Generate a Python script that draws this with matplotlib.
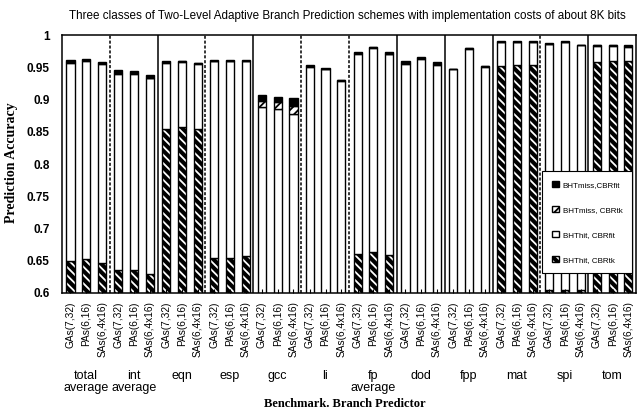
import matplotlib
matplotlib.use("Agg")
from matplotlib import pyplot as plt
from matplotlib.patches import Patch
import matplotlib.transforms as mtransforms
import numpy as np


TITLE = 'Three classes of Two-Level Adaptive Branch Prediction schemes with implementation costs of about 8K bits'

benchmarks = ['total\naverage', 'int\naverage', 'eqn', 'esp', 'gcc', 'li',
			  'fp\naverage', 'dod', 'fpp', 'mat', 'spi', 'tom']
predictors = ['GAs(7,32)', 'PAs(6,16)', 'SAs(6,4x16)']

# fraction of branches in each class, three predictors per benchmark
hit_tk = [0.650, 0.652, 0.646,  0.635, 0.635, 0.629,  0.855, 0.857, 0.855,
		  0.655, 0.655, 0.658,  0.500, 0.500, 0.500,  0.500, 0.500, 0.500,
		  0.661, 0.663, 0.659,  0.500, 0.500, 0.500,  0.500, 0.500, 0.500,
		  0.952, 0.953, 0.953,  0.604, 0.604, 0.604,  0.958, 0.960, 0.959]
hit_fit = [0.307, 0.308, 0.309,  0.305, 0.305, 0.304,  0.102, 0.101, 0.100,
		   0.304, 0.304, 0.301,  0.388, 0.386, 0.378,  0.451, 0.447, 0.429,
		   0.310, 0.317, 0.311,  0.455, 0.463, 0.454,  0.447, 0.479, 0.451,
		   0.037, 0.036, 0.036,  0.382, 0.385, 0.380,  0.025, 0.023, 0.023]
miss_tk = [0.001, 0.001, 0.001,  0.001, 0.001, 0.001,  0.001, 0.001, 0.001,
		   0.001, 0.001, 0.001,  0.009, 0.010, 0.012,  0.001, 0.001, 0.001,
		   0.001, 0.001, 0.001,  0.001, 0.001, 0.001,  0.0005, 0.0005, 0.0005,
		   0.0005, 0.0005, 0.0005,  0.0005, 0.0005, 0.0005,  0.001, 0.001, 0.001]
miss_fit = [0.003, 0.002, 0.002,  0.004, 0.003, 0.004,  0.001, 0.001, 0.001,
			0.001, 0.001, 0.001,  0.010, 0.008, 0.012,  0.002, 0.001, 0.001,
			0.002, 0.001, 0.002,  0.003, 0.002, 0.003,  0.0005, 0.0005, 0.0005,
			0.0005, 0.0005, 0.0005,  0.0005, 0.0005, 0.0005,  0.001, 0.001, 0.001]

# separator style after each group
sep_styles = ['--', '-', '--', '-', '--', '--', '-', '-', '-', '--', '-']

plt.rcParams['hatch.linewidth'] = 1.3
plt.rcParams['font.family'] = 'Liberation Sans'

fig = plt.figure(figsize=(6.38, 4.17), dpi=100)
ax = fig.add_axes([0.097, 0.2974, 0.900, 0.6186])

offsets = np.array([0.18, 0.51, 0.84])
x = np.concatenate([i + offsets for i in range(len(benchmarks))])
w = 0.17

hit_tk = np.array(hit_tk)
hit_fit = np.array(hit_fit)
miss_tk = np.array(miss_tk)
miss_fit = np.array(miss_fit)

b1 = np.zeros(len(x))
b2 = b1 + hit_tk
b3 = b2 + hit_fit
b4 = b3 + miss_tk

# BHThit,CBRtk: black with white stripes
ax.bar(x, hit_tk, w, bottom=b1, color='black', edgecolor='white', hatch='\\\\\\\\', linewidth=0)
ax.bar(x, hit_tk, w, bottom=b1, facecolor='none', edgecolor='black', linewidth=1)
# BHThit,CBRfit: white
ax.bar(x, hit_fit, w, bottom=b2, facecolor='white', edgecolor='black', linewidth=1)
# BHTmiss,CBRtk
ax.bar(x, miss_tk, w, bottom=b3, facecolor='white', edgecolor='black', hatch='////', linewidth=1)
# BHTmiss,CBRfit
ax.bar(x, miss_fit, w, bottom=b4, facecolor='black', edgecolor='black', linewidth=1)

for i, ls in enumerate(sep_styles):
	ax.axvline(i + 1, color='black', linestyle=ls, linewidth=1.1, dashes=(2, 1.2) if ls == '--' else (None, None))

ax.set_xlim(0, len(benchmarks))
ax.set_ylim(0.6, 1.0)
ax.set_yticks([0.6, 0.65, 0.7, 0.75, 0.8, 0.85, 0.9, 0.95, 1.0])
ax.set_yticklabels(['0.6', '0.65', '0.7', '0.75', '0.8', '0.85', '0.9', '0.95', '1'],
				   fontweight='bold', fontsize=8.5)
ax.tick_params(axis='y', direction='in', length=0, pad=9)
ax.set_xticks(x)
ax.set_xticklabels(predictors * len(benchmarks), rotation=90, fontsize=7.3)
ax.tick_params(axis='x', direction='in', length=3, pad=6)
for s in ax.spines.values():
	s.set_linewidth(1.1)

trans = mtransforms.blended_transform_factory(ax.transData, fig.transFigure)
for i, name in enumerate(benchmarks):
	ax.text(i + 0.5, 0.112, name, transform=trans, ha='center', va='top',
			fontsize=9, linespacing=0.95)

fig.text(0.545, 0.962, TITLE, ha='center', va='center', fontsize=8.4)
fig.text(0.54, 0.03, 'Benchmark. Branch Predictor', ha='center', va='center',
		 fontsize=9, fontweight='bold', family='Liberation Serif')
fig.text(0.018, 0.61, 'Prediction Accuracy', ha='center', va='center', rotation=90,
		 fontsize=10, fontweight='bold', family='Liberation Serif')

handles = [
	Patch(facecolor='black', edgecolor='black'),
	Patch(facecolor='white', edgecolor='black', hatch='////'),
	Patch(facecolor='white', edgecolor='black'),
	(Patch(facecolor='black', edgecolor='white', hatch='\\\\\\\\', linewidth=0),
	 Patch(facecolor='none', edgecolor='black')),
]
labels = ['BHTmiss,CBRfit', 'BHTmiss, CBRtk', 'BHThit, CBRfit', 'BHThit, CBRtk']
leg = ax.legend(handles, labels, loc='lower left', bbox_to_anchor=(0.83, 0.06),
				fontsize=5.8, labelspacing=2.1, handlelength=0.9, handleheight=0.9,
				handletextpad=0.4, borderpad=1.2, fancybox=False, framealpha=1,
				edgecolor='black')
leg.get_frame().set_linewidth(0.8)

plt.savefig('out.png', dpi=100)
